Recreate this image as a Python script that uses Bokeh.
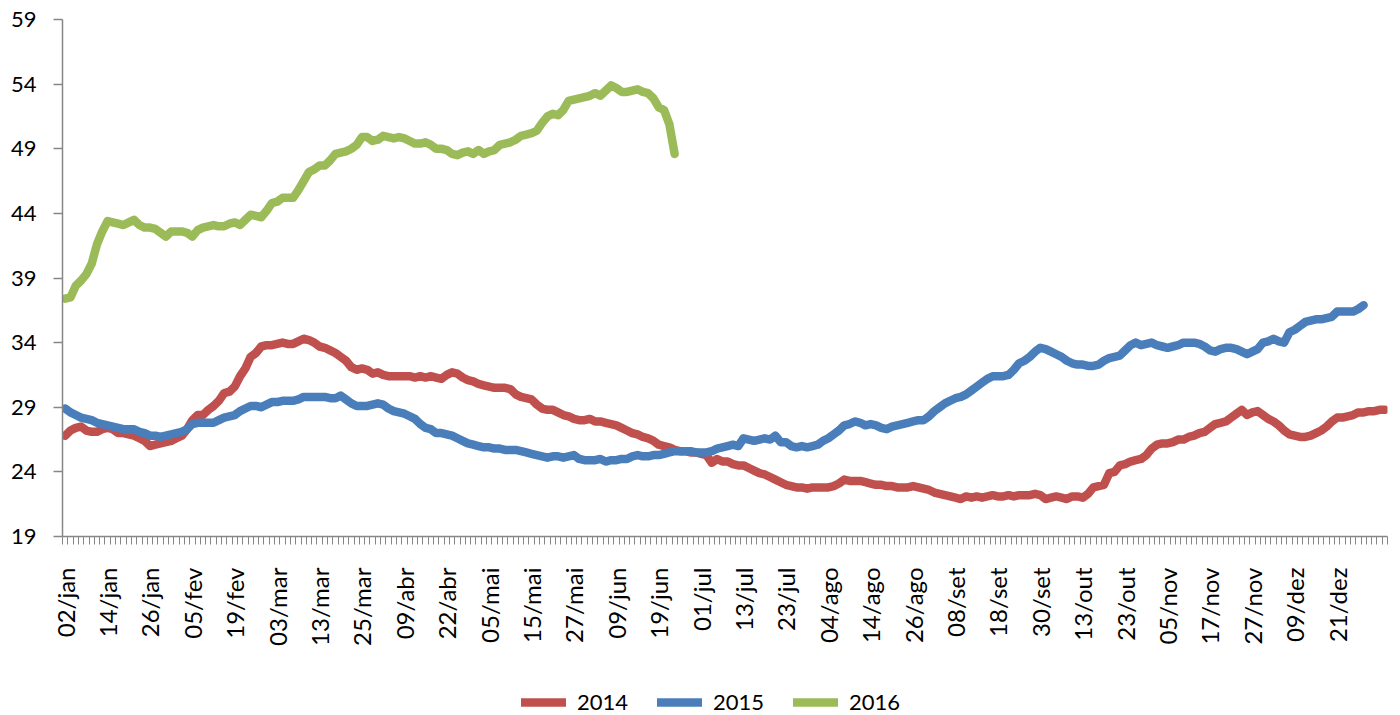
from math import pi
from bokeh.plotting import figure
from bokeh.layouts import column
from bokeh.models import Range1d, FixedTicker, Legend, LegendItem
from bokeh.embed import file_html
from bokeh.resources import INLINE

tick_labels = ["02/jan", "14/jan", "26/jan", "05/fev", "19/fev", "03/mar", "13/mar", "25/mar",
               "09/abr", "22/abr", "05/mai", "15/mai", "27/mai", "09/jun", "19/jun", "01/jul",
               "13/jul", "23/jul", "04/ago", "14/ago", "26/ago", "08/set", "18/set", "30/set",
               "13/out", "23/out", "05/nov", "17/nov", "27/nov", "09/dez", "21/dez"]
label_every = 8
n_categories = 250
y_ticks = [19, 24, 29, 34, 39, 44, 49, 54, 59]

s2014 = [
    26.8, 27.2, 27.4, 27.5, 27.2, 27.1, 27.1, 27.3,
    27.4, 27.3, 27.0, 27.0, 26.9, 26.8, 26.6, 26.4,
    26.0, 26.1, 26.2, 26.3, 26.4, 26.6, 26.8, 27.3,
    28.0, 28.4, 28.4, 28.8, 29.1, 29.5, 30.1, 30.2,
    30.6, 31.4, 32.0, 32.9, 33.2, 33.7, 33.8, 33.8,
    33.9, 34.0, 33.9, 33.9, 34.1, 34.3, 34.2, 34.0,
    33.7, 33.6, 33.4, 33.2, 32.9, 32.6, 32.1, 31.9,
    32.0, 31.9, 31.6, 31.7, 31.5, 31.4, 31.4, 31.4,
    31.4, 31.4, 31.3, 31.4, 31.3, 31.4, 31.3, 31.2,
    31.5, 31.7, 31.6, 31.3, 31.1, 31.0, 30.8, 30.7,
    30.6, 30.5, 30.5, 30.5, 30.4, 30.0, 29.8, 29.7,
    29.6, 29.2, 28.9, 28.8, 28.8, 28.6, 28.4, 28.3,
    28.1, 28.0, 28.0, 28.1, 27.9, 27.9, 27.8, 27.7,
    27.6, 27.4, 27.2, 27.0, 26.9, 26.7, 26.6, 26.4,
    26.1, 26.0, 25.9, 25.7, 25.6, 25.6, 25.5, 25.5,
    25.4, 25.3, 24.7, 25.0, 24.8, 24.8, 24.6, 24.5,
    24.5, 24.3, 24.1, 23.9, 23.8, 23.6, 23.4, 23.2,
    23.0, 22.9, 22.8, 22.8, 22.7, 22.8, 22.8, 22.8,
    22.8, 22.9, 23.1, 23.4, 23.3, 23.3, 23.3, 23.2,
    23.1, 23.0, 23.0, 22.9, 22.9, 22.8, 22.8, 22.8,
    22.9, 22.8, 22.7, 22.6, 22.4, 22.3, 22.2, 22.1,
    22.0, 21.9, 22.1, 22.0, 22.1, 22.0, 22.1, 22.2,
    22.1, 22.1, 22.2, 22.1, 22.2, 22.2, 22.2, 22.3,
    22.2, 21.9, 22.0, 22.1, 22.0, 21.9, 22.1, 22.1,
    22.0, 22.3, 22.8, 22.9, 23.0, 23.9, 24.0, 24.5,
    24.6, 24.8, 24.9, 25.0, 25.3, 25.8, 26.1, 26.2,
    26.2, 26.3, 26.5, 26.5, 26.7, 26.8, 27.0, 27.1,
    27.4, 27.7, 27.8, 27.9, 28.2, 28.5, 28.8, 28.4,
    28.6, 28.7, 28.4, 28.1, 27.9, 27.6, 27.2, 26.9,
    26.8, 26.7, 26.7, 26.8, 27.0, 27.2, 27.5, 27.9,
    28.2, 28.2, 28.3, 28.4, 28.6, 28.6, 28.7, 28.7,
    28.8, 28.8,
]

s2015 = [
    28.9, 28.6, 28.4, 28.2, 28.1, 28.0, 27.8, 27.7,
    27.6, 27.5, 27.4, 27.3, 27.3, 27.3, 27.1, 27.0,
    26.8, 26.8, 26.7, 26.8, 26.9, 27.0, 27.1, 27.3,
    27.7, 27.8, 27.8, 27.8, 27.8, 28.0, 28.2, 28.3,
    28.4, 28.7, 28.9, 29.1, 29.1, 29.0, 29.2, 29.4,
    29.4, 29.5, 29.5, 29.5, 29.6, 29.8, 29.8, 29.8,
    29.8, 29.8, 29.7, 29.7, 29.9, 29.6, 29.3, 29.1,
    29.1, 29.1, 29.2, 29.3, 29.2, 28.9, 28.7, 28.6,
    28.5, 28.3, 28.1, 27.7, 27.4, 27.3, 27.0, 27.0,
    26.9, 26.8, 26.6, 26.4, 26.2, 26.1, 26.0, 25.9,
    25.9, 25.8, 25.8, 25.7, 25.7, 25.7, 25.6, 25.5,
    25.4, 25.3, 25.2, 25.1, 25.2, 25.2, 25.1, 25.2,
    25.3, 25.0, 24.9, 24.9, 24.9, 25.0, 24.8, 24.9,
    24.9, 25.0, 25.0, 25.2, 25.3, 25.2, 25.2, 25.3,
    25.3, 25.4, 25.5, 25.6, 25.6, 25.6, 25.6, 25.5,
    25.5, 25.5, 25.6, 25.8, 25.9, 26.0, 26.1, 26.0,
    26.6, 26.5, 26.4, 26.5, 26.6, 26.5, 26.8, 26.3,
    26.3, 26.0, 25.9, 26.0, 25.9, 26.0, 26.1, 26.4,
    26.6, 26.9, 27.2, 27.6, 27.7, 27.9, 27.8, 27.6,
    27.7, 27.6, 27.4, 27.3, 27.5, 27.6, 27.7, 27.8,
    27.9, 28.0, 28.0, 28.3, 28.7, 29.0, 29.3, 29.5,
    29.7, 29.8, 30.0, 30.3, 30.6, 30.9, 31.2, 31.4,
    31.4, 31.4, 31.5, 31.9, 32.4, 32.6, 32.9, 33.3,
    33.6, 33.5, 33.3, 33.1, 32.9, 32.6, 32.4, 32.3,
    32.3, 32.2, 32.2, 32.3, 32.6, 32.8, 32.9, 33.0,
    33.4, 33.8, 34.0, 33.8, 33.9, 34.0, 33.8, 33.7,
    33.6, 33.7, 33.8, 34.0, 34.0, 34.0, 33.9, 33.7,
    33.4, 33.3, 33.5, 33.6, 33.6, 33.5, 33.3, 33.1,
    33.3, 33.5, 34.0, 34.1, 34.3, 34.1, 34.0, 34.8,
    35.0, 35.3, 35.6, 35.7, 35.8, 35.8, 35.9, 36.0,
    36.4, 36.4, 36.4, 36.4, 36.6, 36.9,
]

s2016 = [
    37.4, 37.5, 38.4, 38.8, 39.3, 40.1, 41.6, 42.6,
    43.4, 43.3, 43.2, 43.1, 43.3, 43.5, 43.1, 42.9,
    42.9, 42.8, 42.5, 42.2, 42.6, 42.6, 42.6, 42.5,
    42.2, 42.7, 42.9, 43.0, 43.1, 43.0, 43.0, 43.2,
    43.3, 43.1, 43.5, 43.9, 43.8, 43.7, 44.2, 44.8,
    44.9, 45.2, 45.2, 45.2, 45.8, 46.5, 47.2, 47.4,
    47.7, 47.7, 48.1, 48.6, 48.7, 48.8, 49.0, 49.3,
    49.9, 49.9, 49.6, 49.7, 50.0, 49.9, 49.8, 49.9,
    49.8, 49.6, 49.4, 49.4, 49.5, 49.3, 49.0, 49.0,
    48.9, 48.6, 48.5, 48.7, 48.8, 48.6, 48.9, 48.6,
    48.8, 48.9, 49.3, 49.4, 49.5, 49.7, 50.0, 50.1,
    50.2, 50.4, 51.0, 51.5, 51.7, 51.6, 52.0, 52.7,
    52.8, 52.9, 53.0, 53.1, 53.3, 53.1, 53.5, 53.9,
    53.7, 53.4, 53.4, 53.5, 53.6, 53.4, 53.3, 52.9,
    52.2, 52.0, 50.9, 48.6,
]

series = [("2014", s2014, "#C0504D"), ("2015", s2015, "#4A7EBB"), ("2016", s2016, "#9BBB59")]

FONT = "Lato"
AXIS_COLOR = "#868686"
LW = 8.5
W = 1395

p = figure(width=W, height=670, output_backend="svg", toolbar_location=None,
           x_range=Range1d(-0.5, n_categories - 0.5), y_range=Range1d(y_ticks[0], y_ticks[-1]),
           min_border_left=62, min_border_right=8, min_border_top=19, min_border_bottom=134)
p.outline_line_color = None
p.xgrid.visible = False
p.ygrid.visible = False

for name, vals, color in series:
    p.line(list(range(len(vals))), vals, line_color=color, line_width=LW,
           line_cap="round", line_join="round")

# x axis
xa = p.xaxis[0]
major = [i * label_every for i in range(len(tick_labels))]
xa.ticker = FixedTicker(ticks=major, minor_ticks=[i - 0.5 for i in range(n_categories + 1)])
xa.major_label_overrides = {m: lab for m, lab in zip(major, tick_labels)}
xa.major_label_orientation = pi / 2
xa.major_tick_out = 0
xa.major_tick_in = 0
xa.major_tick_line_color = None
xa.minor_tick_out = 8
xa.minor_tick_in = 0
xa.minor_tick_line_color = AXIS_COLOR
xa.minor_tick_line_width = 1
xa.axis_line_color = AXIS_COLOR
xa.axis_line_width = 1.5
xa.major_label_standoff = 23
xa.major_label_text_font = FONT
xa.major_label_text_font_size = "24px"
xa.major_label_text_color = "#000000"

# y axis
ya = p.yaxis[0]
ya.ticker = FixedTicker(ticks=y_ticks)
ya.major_tick_out = 9
ya.major_tick_in = 0
ya.major_tick_line_color = AXIS_COLOR
ya.major_tick_line_width = 1.5
ya.minor_tick_line_color = None
ya.axis_line_color = AXIS_COLOR
ya.axis_line_width = 1.5
ya.major_label_standoff = 17
ya.major_label_text_font = FONT
ya.major_label_text_font_size = "22px"
ya.major_label_text_color = "#000000"

# legend strip below the chart (its series lines lie outside its 0..1 range, only the legend shows)
lg = figure(width=W, height=45, output_backend="svg", toolbar_location=None,
            x_range=Range1d(0, 1), y_range=Range1d(0, 1),
            x_axis_type=None, y_axis_type=None,
            min_border_left=0, min_border_right=0, min_border_top=0, min_border_bottom=0)
lg.outline_line_color = None
lg.xgrid.visible = False
lg.ygrid.visible = False
items = []
for name, vals, color in series:
    r = lg.line(list(range(len(vals))), vals, line_color=color, line_width=LW,
                line_cap="round", line_join="round")
    items.append(LegendItem(label=name, renderers=[r]))

legend = Legend(items=items, orientation="horizontal", location=(459, 0),
                glyph_width=45, glyph_height=20, label_height=20, label_standoff=11,
                spacing=29, padding=0, margin=0, border_line_color=None,
                background_fill_alpha=0, label_text_font=FONT,
                label_text_font_size="22px", label_text_color="#000000")
lg.add_layout(legend)

layout = column(p, lg, spacing=0)
open("out.html", "w").write(file_html(layout, INLINE))
